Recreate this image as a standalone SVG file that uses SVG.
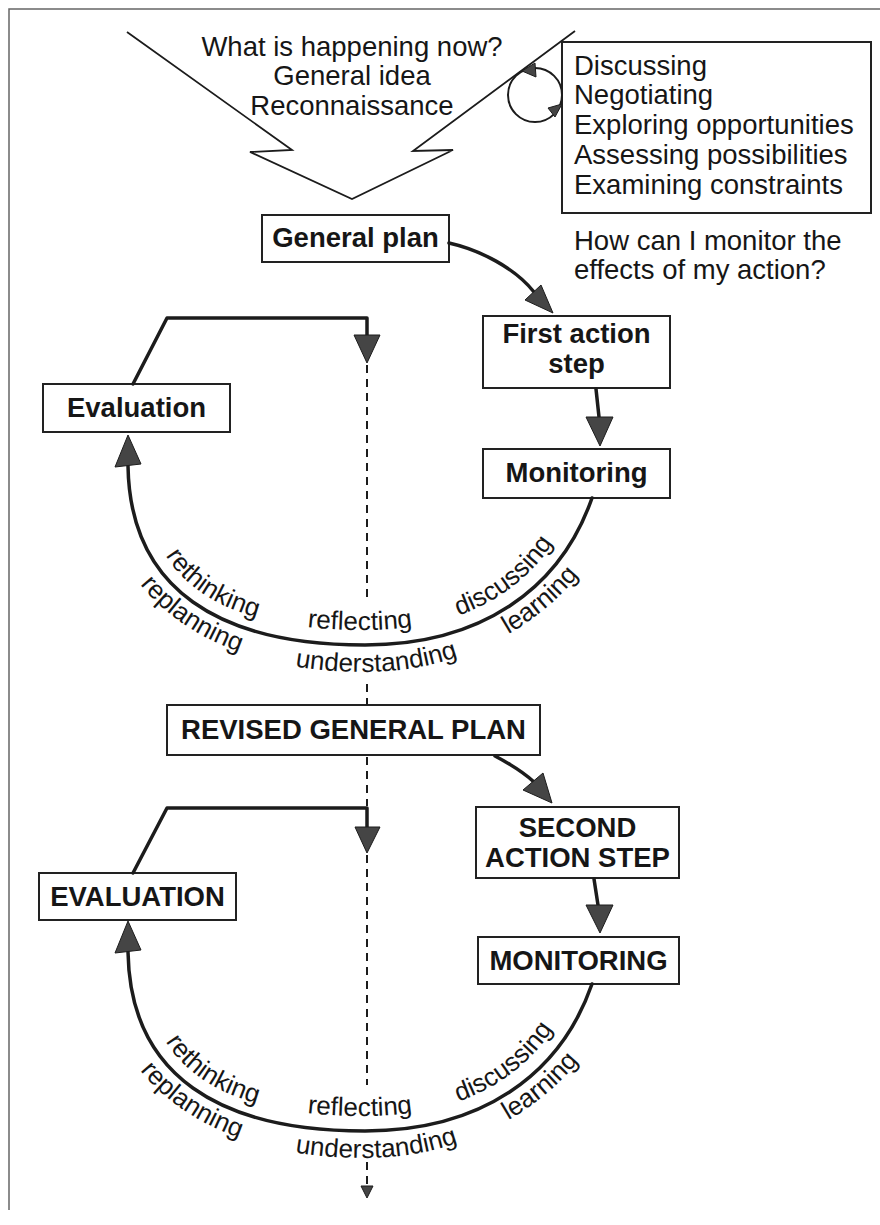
<svg xmlns="http://www.w3.org/2000/svg" width="880" height="1225" viewBox="0 0 880 1225">
<style>
.box{fill:#fff;stroke:#222;stroke-width:2}
.bt{font-family:"Liberation Sans",Arial,sans-serif;font-weight:bold;font-size:27.5px;fill:#161616;text-anchor:middle}
.rt{font-family:"Liberation Sans",Arial,sans-serif;font-size:27.5px;fill:#161616}
.lab{font-family:"Liberation Sans",Arial,sans-serif;font-size:26px;fill:#161616}
.ln{fill:none;stroke:#1c1c1c;stroke-width:3.5;stroke-linecap:round;stroke-linejoin:round}
.thin{fill:none;stroke:#1c1c1c;stroke-width:1.8;stroke-linejoin:miter}
.dash{fill:none;stroke:#1c1c1c;stroke-width:2;stroke-dasharray:8 6}
.ah{fill:#454545;stroke:#1c1c1c;stroke-width:1;stroke-linejoin:round}
</style>
<defs>
<path id="arcIn" d="M 143,470 C 145,585 225,630 365,630 C 475,630 546,582 578,493"/>
<path id="arcOut" d="M 101,470 C 103,600 215,672 365,672 C 485,672 585,600 617,507"/>
</defs>

<g id="frame">
<path d="M 9,1210 L 9,9 L 880,9" fill="none" stroke="#666" stroke-width="1.5"/>
</g>

<g id="chevron">
<path class="thin" d="M 127,32 L 292,150 L 250,152 L 352,199 L 453,150 L 413,151 L 575,31"/>
<text class="rt" text-anchor="middle" x="352" y="56">What is happening now?</text>
<text class="rt" text-anchor="middle" x="352" y="85">General idea</text>
<text class="rt" text-anchor="middle" x="352" y="115">Reconnaissance</text>
</g>

<g id="activities">
<rect class="box" x="562" y="42" width="309" height="171"/>
<text class="rt" x="574" y="75">Discussing</text>
<text class="rt" x="574" y="104">Negotiating</text>
<text class="rt" x="574" y="134">Exploring opportunities</text>
<text class="rt" x="574" y="164">Assessing possibilities</text>
<text class="rt" x="574" y="194">Examining constraints</text>
</g>

<g id="question">
<text class="rt" x="574" y="250">How can I monitor the</text>
<text class="rt" x="574" y="279">effects of my action?</text>
</g>

<g id="general-plan">
<rect class="box" x="262" y="215" width="187" height="47"/>
<text class="bt" x="355.5" y="247">General plan</text>
</g>

<g id="first-action-step">
<rect class="box" x="483" y="316" width="187" height="72"/>
<text class="bt" x="576.5" y="343">First action</text>
<text class="bt" x="576.5" y="373">step</text>
</g>

<g id="monitoring-1">
<rect class="box" x="483" y="449" width="187" height="49"/>
<text class="bt" x="576.5" y="482">Monitoring</text>
</g>

<g id="evaluation-1">
<rect class="box" x="43" y="384" width="187" height="48"/>
<text class="bt" x="136.5" y="417">Evaluation</text>
</g>

<g id="revised-general-plan">
<rect class="box" x="167" y="705" width="373" height="50"/>
<text class="bt" x="353.5" y="739">REVISED GENERAL PLAN</text>
</g>

<g id="second-action-step">
<rect class="box" x="476" y="807" width="203" height="71"/>
<text class="bt" x="577.5" y="837">SECOND</text>
<text class="bt" x="577.5" y="867">ACTION STEP</text>
</g>

<g id="monitoring-2">
<rect class="box" x="478" y="937" width="201" height="47"/>
<text class="bt" x="578.5" y="970">MONITORING</text>
</g>

<g id="evaluation-2">
<rect class="box" x="39" y="873" width="197" height="47"/>
<text class="bt" x="137.5" y="906">EVALUATION</text>
</g>

<g id="connectors">
<!-- small loop -->
<circle cx="535" cy="95" r="27" fill="none" stroke="#1c1c1c" stroke-width="2"/>
<polygon class="ah" points="522,71 535,63 536,77"/>
<polygon class="ah" points="562,104 548,108 555,117"/>

<!-- general plan to first action -->
<path class="ln" d="M 449,243 C 480,250 515,268 534,292"/>
<polygon class="ah" points="553,313 525,300 541,285"/>

<!-- first action to monitoring -->
<path class="ln" d="M 596,389 L 599,417"/>
<polygon class="ah" points="600,446 586,417 613,417"/>

<!-- loop 1 arc -->
<path class="ln" d="M 128,466 C 130,590 220,645 365,645 C 480,645 560,590 592,498"/>
<polygon class="ah" points="128,435 115,467 141,464"/>

<!-- feedback 1 -->
<path class="ln" d="M 133,384 L 167,318 L 367,318 L 367,336"/>
<polygon class="ah" points="367,363 354,335 380,335"/>
<path class="dash" d="M 367,365 L 367,603"/>
<path class="dash" d="M 367,684 L 367,705"/>

<!-- revised to second action -->
<path class="ln" d="M 495,756 C 510,764 522,771 534,782"/>
<polygon class="ah" points="552,803 523,790 543,773"/>

<!-- second action to monitoring -->
<path class="ln" d="M 594,879 L 598,905"/>
<polygon class="ah" points="600,933 586,905 613,905"/>

<!-- loop 2 arc -->
<path class="ln" d="M 128,952 C 130,1076 220,1131 365,1131 C 480,1131 560,1076 592,984"/>
<polygon class="ah" points="128,921 115,953 141,950"/>

<!-- feedback 2 -->
<path class="ln" d="M 133,873 L 167,808 L 367,808 L 367,828"/>
<polygon class="ah" points="367,853 355,827 380,827"/>
<path class="dash" d="M 367,757 L 367,806"/>
<path class="dash" d="M 367,855 L 367,1085"/>
<path class="dash" d="M 367,1162 L 367,1187"/>
<polygon class="ah" points="367,1198 361,1186 373,1186"/>
</g>

<g id="arc-labels-1">
<text class="lab" text-anchor="middle"><textPath href="#arcIn" startOffset="25%">rethinking</textPath></text>
<text class="lab" text-anchor="middle"><textPath href="#arcIn" startOffset="52.5%">reflecting</textPath></text>
<text class="lab" text-anchor="middle"><textPath href="#arcIn" startOffset="80%">discussing</textPath></text>
<text class="lab" text-anchor="middle"><textPath href="#arcOut" startOffset="26.5%">replanning</textPath></text>
<text class="lab" text-anchor="middle"><textPath href="#arcOut" startOffset="55.5%">understanding</textPath></text>
<text class="lab" text-anchor="middle"><textPath href="#arcOut" startOffset="82%">learning</textPath></text>
</g>

<g id="arc-labels-2" transform="translate(0,486)">
<text class="lab" text-anchor="middle"><textPath href="#arcIn" startOffset="25%">rethinking</textPath></text>
<text class="lab" text-anchor="middle"><textPath href="#arcIn" startOffset="52.5%">reflecting</textPath></text>
<text class="lab" text-anchor="middle"><textPath href="#arcIn" startOffset="80%">discussing</textPath></text>
<text class="lab" text-anchor="middle"><textPath href="#arcOut" startOffset="26.5%">replanning</textPath></text>
<text class="lab" text-anchor="middle"><textPath href="#arcOut" startOffset="55.5%">understanding</textPath></text>
<text class="lab" text-anchor="middle"><textPath href="#arcOut" startOffset="82%">learning</textPath></text>
</g>
</svg>
